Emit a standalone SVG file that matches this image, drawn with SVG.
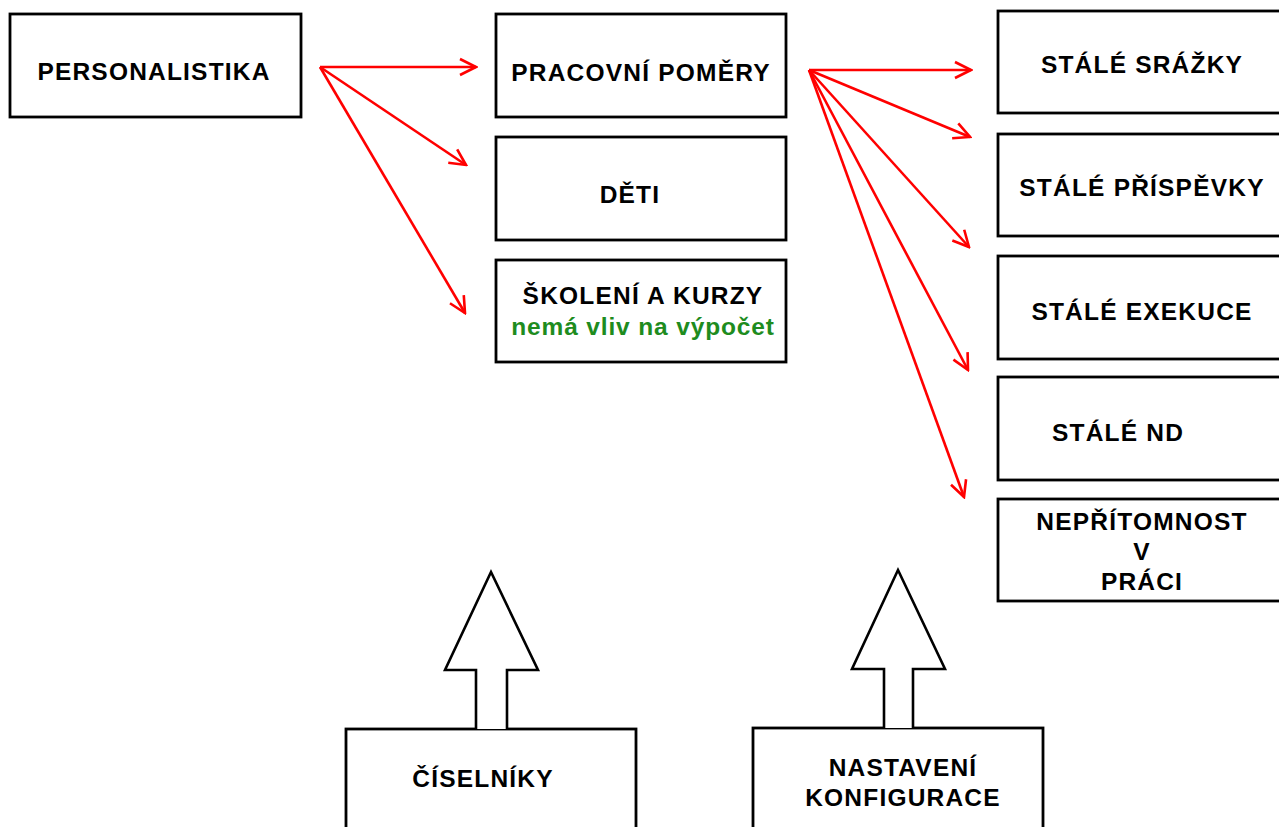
<svg xmlns="http://www.w3.org/2000/svg" width="1279" height="827" viewBox="0 0 1279 827">
<defs>
<style>
.box{fill:#fff;stroke:#000;stroke-width:2.8}
.t{font-family:"Liberation Sans",Arial,sans-serif;font-weight:bold;font-size:24.5px;letter-spacing:1.2px;fill:#000;text-anchor:middle}
.g{fill:#1e8c1e;letter-spacing:0.85px}
.c{stroke:#ff0000;stroke-width:2.6;fill:none}
.blk{fill:#fff;stroke:#000;stroke-width:2.6;stroke-linejoin:miter}
</style>
<marker id="ah" viewBox="0 0 20 20" refX="18" refY="10" markerWidth="20" markerHeight="20" markerUnits="userSpaceOnUse" orient="auto">
<path d="M2,2 L18,10 L2,18" fill="none" stroke="#ff0000" stroke-width="2.6"/>
</marker>
</defs>
<rect width="1279" height="827" fill="#fff"/>
<g id="personalistika"><rect class="box" x="10" y="14" width="291" height="103"/><text class="t" x="154" y="80">PERSONALISTIKA</text></g>
<g id="pracovni-pomery"><rect class="box" x="496" y="14" width="290" height="103"/><text class="t" x="641" y="81">PRACOVNÍ POMĚRY</text></g>
<g id="deti"><rect class="box" x="496" y="137" width="290" height="103"/><text class="t" x="630" y="203">DĚTI</text></g>
<g id="skoleni"><rect class="box" x="496" y="260" width="290" height="102"/><text class="t" x="643" y="304">ŠKOLENÍ A KURZY</text><text class="t g" x="643" y="335">nemá vliv na výpočet</text></g>
<g id="stale-srazky"><rect class="box" x="998" y="11" width="300" height="102"/><text class="t" x="1142" y="73">STÁLÉ SRÁŽKY</text></g>
<g id="stale-prispevky"><rect class="box" x="998" y="134" width="300" height="102"/><text class="t" x="1142" y="196">STÁLÉ PŘÍSPĚVKY</text></g>
<g id="stale-exekuce"><rect class="box" x="998" y="256" width="300" height="103"/><text class="t" x="1142" y="320">STÁLÉ EXEKUCE</text></g>
<g id="stale-nd"><rect class="box" x="998" y="377" width="300" height="103"/><text class="t" x="1118" y="441">STÁLÉ ND</text></g>
<g id="nepritomnost"><rect class="box" x="998" y="499" width="300" height="102"/><text class="t" x="1142" y="530">NEPŘÍTOMNOST</text><text class="t" x="1142" y="560">V</text><text class="t" x="1142" y="590">PRÁCI</text></g>
<g id="ciselniky"><rect class="box" x="346" y="729" width="290" height="120"/><text class="t" x="483" y="787">ČÍSELNÍKY</text></g>
<g id="nastaveni"><rect class="box" x="753" y="728" width="290" height="120"/><text class="t" x="903" y="776">NASTAVENÍ</text><text class="t" x="903" y="806">KONFIGURACE</text></g>
<g id="block-arrows">
<path class="blk" d="M476,729 L476,670 L445,670 L491,572 L538,670 L507,670 L507,729"/>
<path class="blk" d="M884,728 L884,669 L852,669 L898,570 L945,669 L913,669 L913,728"/>
</g>
<g id="connectors">
<line class="c" x1="320" y1="67" x2="476" y2="67" marker-end="url(#ah)"/>
<line class="c" x1="320" y1="67" x2="466" y2="165" marker-end="url(#ah)"/>
<line class="c" x1="320" y1="67" x2="465" y2="313" marker-end="url(#ah)"/>
<line class="c" x1="809" y1="70" x2="971" y2="70" marker-end="url(#ah)"/>
<line class="c" x1="809" y1="70" x2="970" y2="137" marker-end="url(#ah)"/>
<line class="c" x1="809" y1="70" x2="969" y2="247" marker-end="url(#ah)"/>
<line class="c" x1="809" y1="70" x2="968" y2="370" marker-end="url(#ah)"/>
<line class="c" x1="809" y1="70" x2="964" y2="497" marker-end="url(#ah)"/>
</g>
</svg>
